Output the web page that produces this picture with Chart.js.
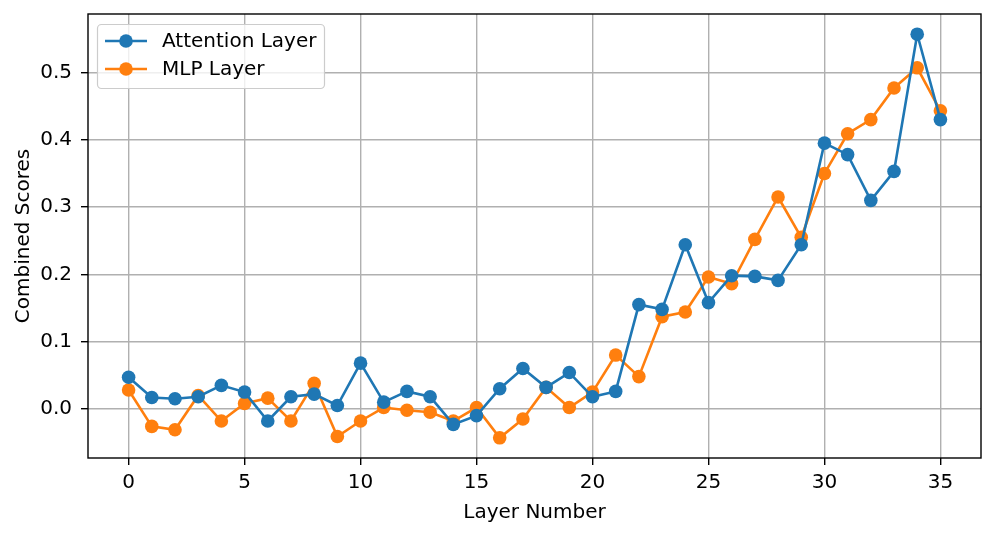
<!DOCTYPE html>
<html>
<head>
<meta charset="utf-8">
<script src="https://cdn.jsdelivr.net/npm/chart.js@4/dist/chart.umd.min.js"></script>
<style>
  html, body { margin: 0; padding: 0; background: #fff; overflow: hidden; }
  #chart { display: block; width: 997px; height: 534px; }
</style>
</head>
<body>
<canvas id="chart" width="997" height="534"></canvas>
<script>
// layer index 0..35
var layers = [];
for (var i = 0; i < 36; i++) layers.push(i);

var attentionScores = [
  0.047, 0.017, 0.015, 0.018, 0.035, 0.025, -0.018, 0.018, 0.022, 0.005,
  0.068, 0.010, 0.026, 0.018, -0.023, -0.010, 0.030, 0.060, 0.032, 0.054,
  0.018, 0.026, 0.155, 0.148, 0.244, 0.158, 0.198, 0.197, 0.191, 0.244,
  0.395, 0.378, 0.310, 0.353, 0.557, 0.430
];
var mlpScores = [
  0.028, -0.026, -0.031, 0.020, -0.018, 0.008, 0.016, -0.018, 0.038, -0.041,
  -0.018, 0.002, -0.002, -0.005, -0.018, 0.002, -0.043, -0.015, 0.032, 0.002,
  0.025, 0.080, 0.048, 0.137, 0.144, 0.196, 0.186, 0.252, 0.315, 0.255,
  0.350, 0.409, 0.430, 0.477, 0.507, 0.443
];
var xTicks = [0, 5, 10, 15, 20, 25, 30, 35];
var yTicks = [0.0, 0.1, 0.2, 0.3, 0.4, 0.5];

var seriesNames = ['Attention Layer', 'MLP Layer'];
var blue = '#1f77b4', orange = '#ff7f0e';
var FONT = 'DejaVu Sans';

function toPoints(vals) {
  return vals.map(function (v, i) { return {x: layers[i], y: v}; });
}

// matplotlib-style legend in the upper left of the plot
var boxLegend = {
  id: 'boxLegend',
  afterDraw: function (chart) {
    var ctx = chart.ctx, a = chart.chartArea;
    var x = a.left + 9, y = a.top + 10, w = 227, h = 64;
    ctx.save();
    ctx.fillStyle = 'rgba(255,255,255,0.8)';
    ctx.strokeStyle = '#cccccc';
    ctx.lineWidth = 1.2;
    ctx.beginPath();
    ctx.roundRect(x + 0.5, y + 0.5, w, h, 4);
    ctx.fill();
    ctx.stroke();
    var cols = [blue, orange];
    ctx.font = '20px "' + FONT + '"';
    ctx.textBaseline = 'middle';
    for (var k = 0; k < 2; k++) {
      var ly = y + 17 + k * 28;
      ctx.strokeStyle = cols[k];
      ctx.lineWidth = 2.6;
      ctx.beginPath();
      ctx.moveTo(x + 8, ly);
      ctx.lineTo(x + 50, ly);
      ctx.stroke();
      ctx.fillStyle = cols[k];
      ctx.beginPath();
      ctx.arc(x + 29, ly, 6.8, 0, Math.PI * 2);
      ctx.fill();
      ctx.fillStyle = '#000';
      ctx.fillText(seriesNames[k], x + 65, ly + 1);
    }
    ctx.restore();
  }
};

// black frame round the axes
var frame = {
  id: 'frame',
  afterDatasetsDraw: function (chart) {
    var ctx = chart.ctx, a = chart.chartArea;
    ctx.save();
    ctx.strokeStyle = '#000';
    ctx.lineWidth = 1.4;
    ctx.strokeRect(a.left, a.top, a.right - a.left, a.bottom - a.top);
    ctx.restore();
  }
};

var gridOpts = { color: '#b0b0b0', lineWidth: 1.4, drawTicks: true, tickLength: 7, tickColor: '#000', tickWidth: 1.4 };

new Chart(document.getElementById('chart'), {
  type: 'line',
  data: {
    datasets: [
      {
        label: seriesNames[0], data: toPoints(attentionScores),
        borderColor: blue, backgroundColor: blue, borderWidth: 2.6,
        pointRadius: 6.8, pointHoverRadius: 6.8, pointBorderWidth: 0, tension: 0
      },
      {
        label: seriesNames[1], data: toPoints(mlpScores),
        borderColor: orange, backgroundColor: orange, borderWidth: 2.6,
        pointRadius: 6.8, pointHoverRadius: 6.8, pointBorderWidth: 0, tension: 0
      }
    ]
  },
  options: {
    responsive: false,
    animation: false,
    devicePixelRatio: 1,
    events: [],
    layout: { autoPadding: false, padding: { top: 14, right: 16, left: 0, bottom: 0 } },
    plugins: { legend: { display: false }, tooltip: { enabled: false } },
    scales: {
      x: {
        type: 'linear', min: -1.75, max: 36.75,
        afterBuildTicks: function (s) { s.ticks = xTicks.map(function (v) { return {value: v}; }); },
        afterFit: function (s) { s.height = 76; s.paddingLeft = 0; s.paddingRight = 0; },
        ticks: { color: '#000', font: { family: FONT, size: 20 }, padding: 6, maxRotation: 0 },
        grid: gridOpts,
        border: { display: false },
        title: { display: true, text: 'Layer Number', color: '#000', font: { family: FONT, size: 20 }, padding: { top: 4, bottom: 9 } }
      },
      y: {
        min: -0.073, max: 0.587,
        afterBuildTicks: function (s) { s.ticks = yTicks.map(function (v) { return {value: v}; }); },
        afterFit: function (s) { s.width = 88; s.paddingTop = 0; s.paddingBottom = 0; },
        ticks: { color: '#000', font: { family: FONT, size: 20 }, padding: 9,
          callback: function (v) { return v.toFixed(1); } },
        grid: gridOpts,
        border: { display: false },
        title: { display: true, text: 'Combined Scores', color: '#000', font: { family: FONT, size: 20 }, padding: { top: 12, bottom: 4 } }
      }
    }
  },
  plugins: [frame, boxLegend]
});
</script>
</body>
</html>
